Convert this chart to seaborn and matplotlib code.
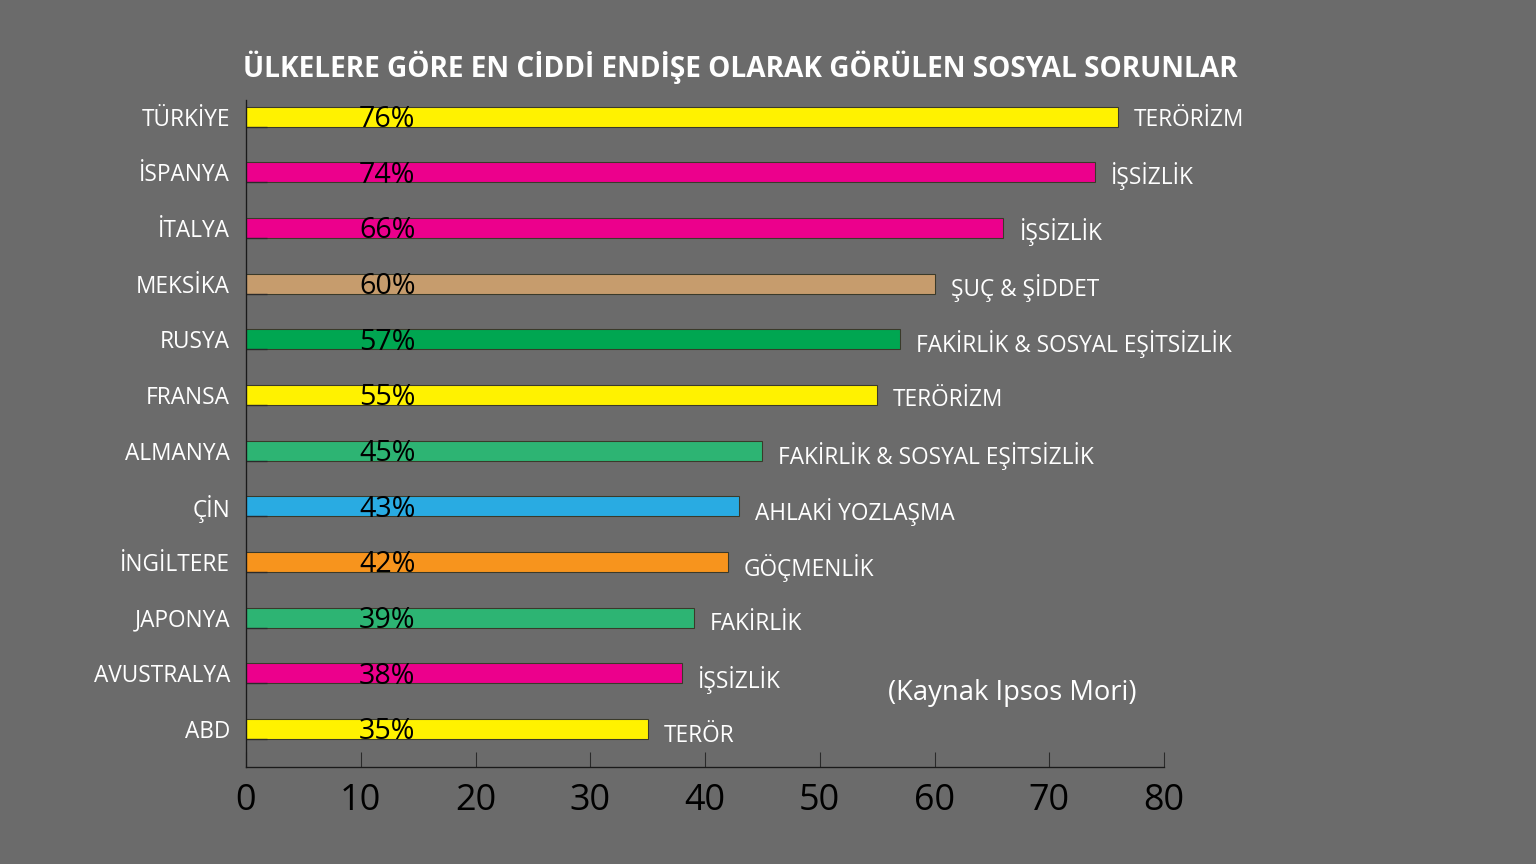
import matplotlib
matplotlib.use("Agg")
import matplotlib.pyplot as plt
import seaborn as sns
import pandas as pd
from matplotlib.ticker import FixedLocator

countries = ["TÜRKİYE", "İSPANYA", "İTALYA", "MEKSİKA", "RUSYA", "FRANSA",
             "ALMANYA", "ÇİN", "İNGİLTERE", "JAPONYA", "AVUSTRALYA", "ABD"]
values = [76, 74, 66, 60, 57, 55, 45, 43, 42, 39, 38, 35]
problems = ["TERÖRİZM", "İŞSİZLİK", "İŞSİZLİK", "ŞUÇ & ŞİDDET",
            "FAKİRLİK & SOSYAL EŞİTSİZLİK", "TERÖRİZM",
            "FAKİRLİK & SOSYAL EŞİTSİZLİK", "AHLAKİ YOZLAŞMA", "GÖÇMENLİK",
            "FAKİRLİK", "İŞSİZLİK", "TERÖR"]
colors = ["#FFF200", "#EC008C", "#EC008C", "#C69C6D", "#00A651", "#FFF200",
          "#2DB473", "#29ABE2", "#F7941D", "#2DB473", "#EC008C", "#FFF200"]

title = "ÜLKELERE GÖRE EN CİDDİ ENDİŞE OLARAK GÖRÜLEN SOSYAL SORUNLAR"
source = "(Kaynak Ipsos Mori)"

bg = "#6B6B6B"
df = pd.DataFrame({"country": countries, "value": values})

fig = plt.figure(figsize=(16, 9), dpi=96, facecolor=bg)
plt.rcParams['font.family'] = ['Open Sans', 'DejaVu Sans']
ax = fig.add_axes([246 / 1536, 97 / 864, 918 / 1536, 667 / 864])
ax.set_facecolor(bg)

sns.barplot(data=df, y="country", x="value", hue="country", order=countries,
            palette=dict(zip(countries, colors)), legend=False, orient="h",
            width=0.36, saturation=1, edgecolor="#3a3a2a", linewidth=0.8, ax=ax)

ax.set_xlim(0, 80)
ax.set_ylim(11.68, -0.3)
ax.set_xticks(range(0, 81, 10))
ax.set_xlabel("")
ax.set_ylabel("")

for s in ["top", "right"]:
    ax.spines[s].set_visible(False)
for s in ["left", "bottom"]:
    ax.spines[s].set_color("#1a1a1a")
    ax.spines[s].set_linewidth(1.0)

ax.tick_params(axis="x", direction="in", length=11, width=0.8, color="#2a2a2a",
               labelsize=27, labelcolor="black", pad=12)
ax.tick_params(axis="y", which="major", length=0, labelsize=17,
               labelcolor="white", pad=12)
ax.yaxis.set_minor_locator(FixedLocator([i + 0.18 for i in range(len(countries))]))
ax.tick_params(axis="y", which="minor", direction="in", length=16, width=1.0,
               color="#2a2a2a")

for i, (v, p) in enumerate(zip(values, problems)):
    ax.text(12.3, i + 0.05, f"{v}%", ha="center", va="center", fontsize=21.5,
            color="black")
    ax.text(v + 1.4, i + 0.06 + i * 0.005, p, ha="left", va="center",
            fontsize=17, color="white")

fig.text(740 / 1536, 1 - 67 / 864, title, ha="center", va="center",
         fontsize=21, fontweight="bold", color="white")
fig.text(1012 / 1536, 1 - 693 / 864, source, ha="center", va="center",
         fontsize=20.5, color="white")

fig.savefig("out.png", dpi=96, facecolor=bg)
